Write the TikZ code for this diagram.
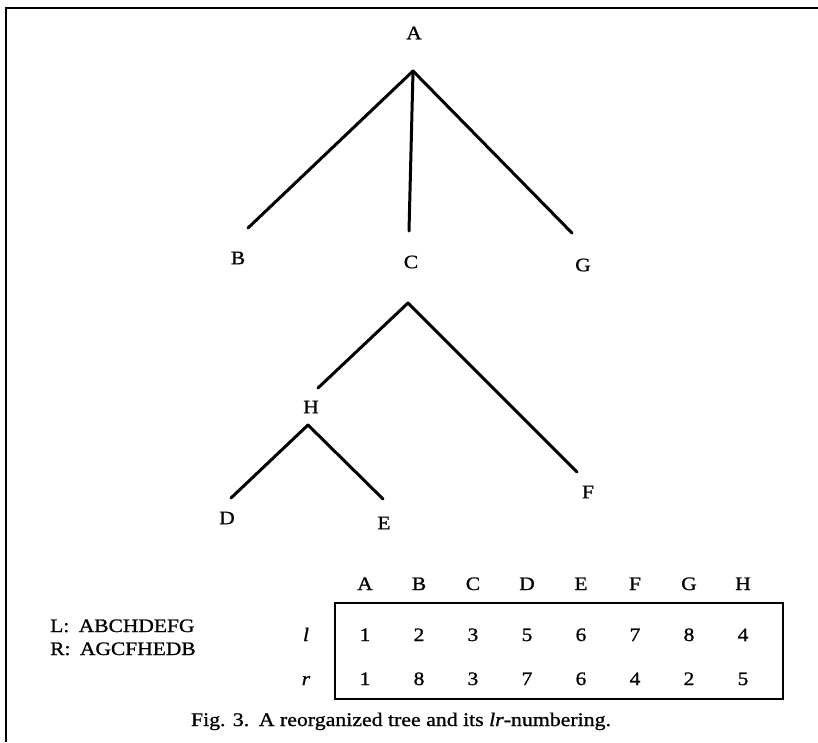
\documentclass[tikz,border=0pt]{standalone}
\usepackage{fontspec}
\setmainfont{Liberation Serif}[FakeStretch=1.13,FakeBold=1]
\usepackage{tikz}

\begin{document}
\begin{tikzpicture}[x=1pt,y=-1pt,
        lbl/.style={font=\fontsize{19}{22}\selectfont, inner sep=0pt},
        edge/.style={line width=3pt, line cap=round},
        num/.style={font=\fontsize{19}{22}\selectfont, inner sep=0pt, anchor=base}]
        \useasboundingbox (0,0) rectangle (818,742);
        \draw[line width=1.5pt] (818,8) -- (6,8) -- (6,742);

        % tree labels
        \node[lbl] (A) at (414,33) {A};
        \node[lbl] (B) at (238,258) {B};
        \node[lbl] (C) at (411,262) {C};
        \node[lbl] (G) at (583,265) {G};
        \node[lbl] (H) at (311,407) {H};
        \node[lbl] (F) at (588,492) {F};
        \node[lbl] (D) at (227,518) {D};
        \node[lbl] (E) at (384,523) {E};

        % where the edges start and end
        \coordinate (A-down) at (413,71);
        \coordinate (B-up) at (248,228);
        \coordinate (C-up) at (409,231);
        \coordinate (C-down) at (408,303);
        \coordinate (G-up) at (572,233);
        \coordinate (H-up) at (318,388);
        \coordinate (H-down) at (308,425);
        \coordinate (F-up) at (577,472);
        \coordinate (D-up) at (231,498);
        \coordinate (E-up) at (383,499);

        \draw[edge] (A-down) -- (B-up);
        \draw[edge] (A-down) -- (C-up);
        \draw[edge] (A-down) -- (G-up);
        \draw[edge] (C-down) -- (H-up);
        \draw[edge] (C-down) -- (F-up);
        \draw[edge] (H-down) -- (D-up);
        \draw[edge] (H-down) -- (E-up);

        % lr-numbering table
        \foreach \n [count=\i from 0] in {A,B,C,D,E,F,G,H}
            \node[num] (col-\n) at (365+54*\i,590) {\n};
        \foreach \v [count=\i from 0] in {1,2,3,5,6,7,8,4}
            \node[num] (l-\i) at (365+54*\i,641) {\v};
        \foreach \v [count=\i from 0] in {1,8,3,7,6,4,2,5}
            \node[num] (r-\i) at (365+54*\i,685) {\v};
        \node[num] (row-l) at (306,641) {\textit{l}};
        \node[num] (row-r) at (306,685) {\textit{r}};
        \draw[line width=2.5pt] (335,603) rectangle (783,699);

        \node[anchor=base west, font=\fontsize{19}{22}\selectfont, inner sep=0pt] (Lseq) at (50,632) {L:\enspace ABCHDEFG};
        \node[anchor=base west, font=\fontsize{19}{22}\selectfont, inner sep=0pt] (Rseq) at (50,655) {R:\enspace AGCFHEDB};

        \node[anchor=base, font=\fontsize{19.3}{22}\selectfont, inner sep=0pt] (caption) at (401,726) {Fig. 3.\enspace A reorganized tree and its \textit{lr}-numbering.};
    \end{tikzpicture}
\end{document}
